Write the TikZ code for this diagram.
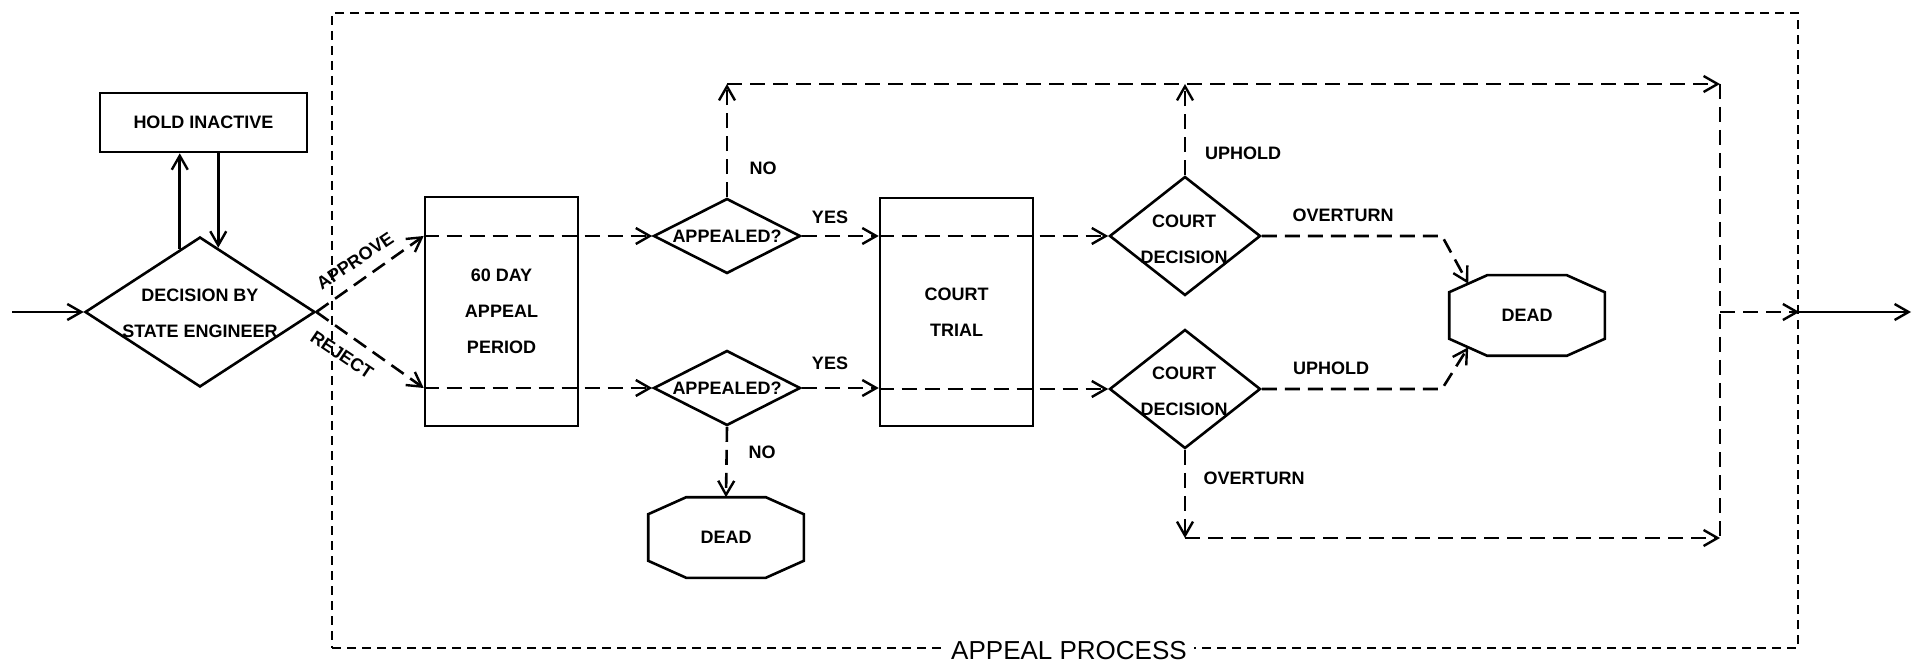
\documentclass[tikz,border=0pt]{standalone}
\usepackage{fontspec}
\setmainfont{Liberation Sans}
\usetikzlibrary{arrows.meta,shapes.geometric,calc}
% octagon outline drawn round a named rectangle node
\newcommand\octagonoutline[1]{%
  \draw ($(#1.north west)+(38,0)$) -- ($(#1.north east)+(-38,0)$)
    -- ($(#1.north east)+(0,17)$) -- ($(#1.south east)+(0,-17)$)
    -- ($(#1.south east)+(-38,0)$) -- ($(#1.south west)+(38,0)$)
    -- ($(#1.south west)+(0,-17)$) -- ($(#1.north west)+(0,17)$) -- cycle;}
\begin{document}
\begin{tikzpicture}[x=1pt,y=-1pt,
  line width=2.6pt,
  every node/.style={font=\bfseries\fontsize{18}{36}\selectfont, inner sep=0pt},
  tip/.style={-{Straight Barb[length=14pt,width=16pt,line width=2.4pt]}},
  flow/.style={dash pattern=on 15pt off 8pt},
  frame/.style={dash pattern=on 9pt off 6pt},
  boxn/.style={draw, rectangle},
  dia/.style={draw, diamond},
  octo/.style={rectangle, minimum width=153pt, minimum height=78pt},
  lbl/.style={align=center},
]
\useasboundingbox (0,0) rectangle (1915,668);
\fill[white] (0,0) rectangle (1915,668);

% dashed frame of the appeal process
\node[draw, frame, minimum width=1466pt, minimum height=635pt] (proc) at (1065,330.5) {};
\node[fill=white, inner xsep=7pt, inner ysep=2pt, font=\fontsize{26}{30}\selectfont] (procT) at (1069,651) {APPEAL PROCESS};

% nodes
\node[boxn, minimum width=207pt, minimum height=59pt] (hold) at (203.5,122.5) {HOLD INACTIVE};
\node[dia, minimum width=230pt, minimum height=150pt] (dec) at (200,312) {};
\node[lbl] (decT) at (200,313) {DECISION BY\\STATE ENGINEER};

\node[boxn, lbl, minimum width=153pt, minimum height=229pt] (per) at (501.5,311.5) {60 DAY\\APPEAL\\PERIOD};

\node[dia, minimum width=147pt, minimum height=75pt] (app1) at (727,236) {};
\node (app1T) at (app1.center) {APPEALED?};
\node[dia, minimum width=147pt, minimum height=75pt] (app2) at (727,388) {};
\node (app2T) at (app2.center) {APPEALED?};

\node[boxn, lbl, minimum width=153pt, minimum height=228pt] (trial) at (956.5,312) {COURT\\TRIAL};

\node[dia, minimum width=151pt, minimum height=119pt] (cd1) at (1185,236) {};
\node[lbl] (cd1T) at (1184,239) {COURT\\DECISION};
\node[dia, minimum width=151pt, minimum height=119pt] (cd2) at (1185,389) {};
\node[lbl] (cd2T) at (1184,391) {COURT\\DECISION};

\node[octo] (dead1) at (1527,315.5) {DEAD};
\octagonoutline{dead1}
\node[octo] (dead2) at (726,537.5) {DEAD};
\octagonoutline{dead2}

% helper points
\coordinate (src) at (12,0);
\coordinate (sink) at (1911,0);
\coordinate (topL) at (0,84);
\coordinate (botL) at (0,538);
\coordinate (kink) at (1442,0);
\coordinate (busT) at (1720,84);
\coordinate (busB) at (1720,538);
\coordinate (busM) at (1720,312);
\coordinate (hu) at ($(dec.west)!0.826!(dec.north)$);
\coordinate (hd) at ($(dec.north)!0.157!(dec.east)$);
\coordinate (d1in) at ($(dead1.north west)+(19,8.5)$);
\coordinate (d1in2) at ($(dead1.south west)+(19,-8.5)$);

% connectors
\draw[tip] (src |- dec.west) -- (dec.west);
\draw[tip] (hu) -- (hu |- hold.south);
\draw[tip] (hd |- hold.south) -- (hd);

\draw[tip,flow] (dec.east) -- (per.west |- app1.west);
\draw[tip,flow] (dec.east) -- (per.west |- app2.west);
\draw[tip,flow] (per.west |- app1.west) -- (app1.west);
\draw[tip,flow] (per.west |- app2.west) -- (app2.west);
\draw[tip,flow] (app1.east) -- (trial.west |- app1.east);
\draw[tip,flow] (app2.east) -- (trial.west |- app2.east);
\draw[tip,flow] (trial.west |- cd1.west) -- (cd1.west);
\draw[tip,flow] (trial.west |- cd2.west) -- (cd2.west);

\draw[tip,flow] (app1.north) -- (app1.north |- topL);
\draw[tip,flow] (app1.north |- topL) -- (busT);
\draw[tip,flow] (app2.south) -- (dead2.north);
\draw[tip,flow] (cd1.north) -- (cd1.north |- topL);
\draw[tip,flow] (cd1.east) -- (cd1.east -| kink) -- (d1in);
\draw[tip,flow] (cd2.east) -- (cd2.east -| kink) -- (d1in2);
\draw[tip,flow] (cd2.south) -- (cd2.south |- botL);
\draw[tip,flow] (cd2.south |- botL) -- (busB);
\draw[flow] (busT) -- (busB);
\draw[tip,flow] (busM) -- (proc.east |- busM);
\draw[tip] (proc.east |- busM) -- (sink |- busM);

% connector labels
\node[rotate=34] (apr) at (355,261) {APPROVE};
\node[rotate=-34] (rej) at (342,355) {REJECT};
\node (yes1) at (830,217) {YES};
\node (yes2) at (830,363) {YES};
\node (no1) at (763,168) {NO};
\node (no2) at (762,452) {NO};
\node (uph1) at (1243,153) {UPHOLD};
\node (ovt1) at (1343,215) {OVERTURN};
\node (uph2) at (1331,368) {UPHOLD};
\node (ovt2) at (1254,478) {OVERTURN};
\end{tikzpicture}
\end{document}
